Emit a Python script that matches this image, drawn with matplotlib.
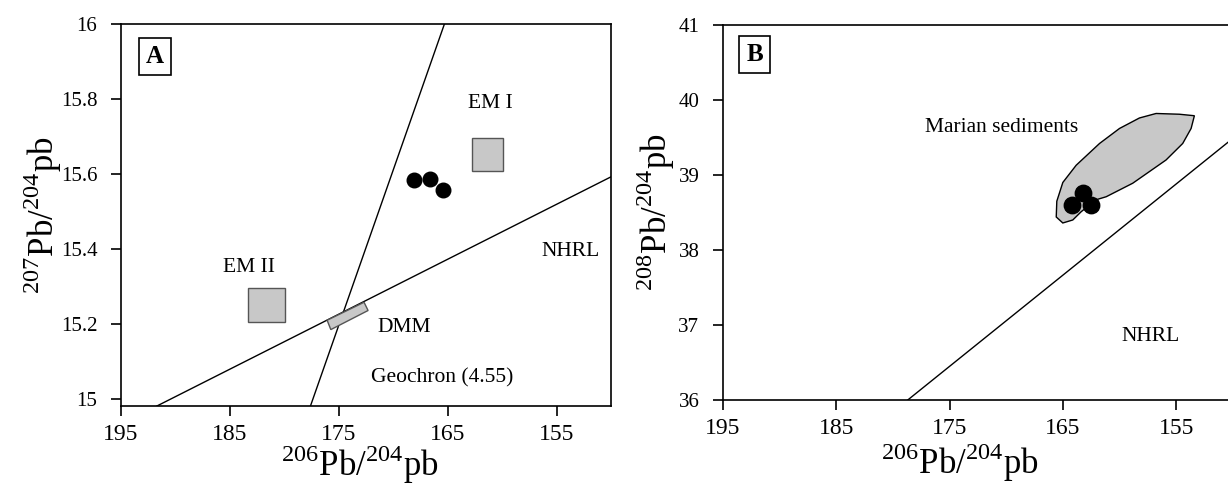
import matplotlib

matplotlib.use("Agg")
import matplotlib.pyplot as plt  # noqa: E402
from matplotlib.patches import Polygon, Rectangle  # noqa: E402

plt.rcParams["font.family"] = ["Liberation Serif", "DejaVu Serif"]
plt.rcParams["mathtext.fontset"] = "custom"
plt.rcParams["mathtext.rm"] = "Liberation Serif"

# panel A: 207Pb/204Pb vs 206Pb/204Pb
a_samples_x = [168.1, 166.6, 165.4]
a_samples_y = [15.584, 15.587, 15.557]
geochron_x = [165.3, 177.6]
geochron_y = [16.0, 14.98]
nhrl_a_x = [191.7, 150.0]
nhrl_a_y = [14.98, 15.592]
em1_box = (159.9, 15.608, 2.9, 0.088)   # x0, y0, width, height
em2_box = (179.95, 15.203, 3.4, 0.093)
dmm_x = [175.73, 176.07, 172.68, 172.31]
dmm_y = [15.184, 15.209, 15.257, 15.235]

# panel B: 208Pb/204Pb vs 206Pb/204Pb
b_samples_x = [164.25, 163.2, 162.5]
b_samples_y = [38.6, 38.76, 38.6]
nhrl_b_x = [178.7, 150.0]
nhrl_b_y = [36.0, 39.49]
marian_x = [165.60, 165.02, 164.14, 163.40, 162.07, 161.19, 158.85, 155.91,
            154.44, 153.70, 153.41, 154.74, 156.79, 158.26, 160.02, 161.78,
            163.84, 165.02, 165.55]
marian_y = [38.44, 38.36, 38.40, 38.51, 38.67, 38.71, 38.89, 39.20,
            39.42, 39.62, 39.79, 39.81, 39.82, 39.76, 39.62, 39.42,
            39.13, 38.90, 38.65]

x_ticks = [195, 185, 175, 165, 155]
a_yticks = [15, 15.2, 15.4, 15.6, 15.8, 16]
a_ylabels = ["15", "15.2", "15.4", "15.6", "15.8", "16"]
b_yticks = [36, 37, 38, 39, 40, 41]

GREY = "#c8c8c8"
XLABEL = r"$^{\mathrm{206}}$Pb/$^{\mathrm{204}}$pb"
NOTE = 15.5


def style_axes(ax):
    ax.set_xlim(195, 150)
    ax.set_xticks(x_ticks)
    ax.tick_params(axis="x", direction="out", length=7, width=1.2, labelsize=17, pad=6)
    ax.tick_params(axis="y", direction="out", length=7, width=1.2, labelsize=15, pad=10)
    for sp in ax.spines.values():
        sp.set_linewidth(1.2)


def panel_tag(ax, x, y, letter):
    ax.text(x, y, letter, fontsize=18, fontweight="bold", ha="center", va="center",
            bbox=dict(boxstyle="square,pad=0.28", fc="white", ec="black", lw=1.2))


fig = plt.figure(figsize=(12.28, 4.86), dpi=100)

# ---- A ----
ax1 = fig.add_axes([0.0985, 0.1646, 0.3991, 0.786])
style_axes(ax1)
ax1.set_ylim(14.98, 16)
ax1.set_yticks(a_yticks)
ax1.set_yticklabels(a_ylabels)
ax1.plot(geochron_x, geochron_y, color="black", lw=1.0)
ax1.plot(nhrl_a_x, nhrl_a_y, color="black", lw=1.0)
for x0, y0, w, h in (em1_box, em2_box):
    ax1.add_patch(Rectangle((x0 + w, y0), -w, h, fc=GREY, ec="#555555", lw=1.0, zorder=3))
ax1.add_patch(Polygon(list(zip(dmm_x, dmm_y)), closed=True, fc=GREY, ec="#555555", lw=1.0, zorder=3))
ax1.scatter(a_samples_x, a_samples_y, s=110, color="black", zorder=4)
panel_tag(ax1, 191.9, 15.912, "A")
ax1.text(161.1, 15.787, "EM I", fontsize=NOTE, ha="center", va="center")
ax1.text(183.2, 15.349, "EM II", fontsize=NOTE, ha="center", va="center")
ax1.text(153.7, 15.392, "NHRL", fontsize=NOTE, ha="center", va="center")
ax1.text(169.0, 15.189, "DMM", fontsize=NOTE, ha="center", va="center")
ax1.text(165.5, 15.056, "Geochron (4.55)", fontsize=NOTE, ha="center", va="center")
ax1.set_xlabel(XLABEL, fontsize=25)
ax1.set_ylabel(r"$^{\mathrm{207}}$Pb/$^{\mathrm{204}}$pb", fontsize=25)
ax1.xaxis.set_label_coords(0.488, -0.097)
ax1.yaxis.set_label_coords(-0.117, 0.5)

# ---- B ----
ax2 = fig.add_axes([0.5888, 0.177, 0.4153, 0.7716])
style_axes(ax2)
ax2.set_ylim(36, 41)
ax2.set_yticks(b_yticks)
ax2.plot(nhrl_b_x, nhrl_b_y, color="black", lw=1.0)
ax2.add_patch(Polygon(list(zip(marian_x, marian_y)), closed=True, fc=GREY, ec="black", lw=1.0, zorder=3))
ax2.scatter(b_samples_x, b_samples_y, s=140, color="black", zorder=4)
panel_tag(ax2, 192.2, 40.6, "B")
ax2.text(170.4, 39.63, "Marian sediments", fontsize=NOTE, ha="center", va="center")
ax2.text(157.3, 36.84, "NHRL", fontsize=NOTE, ha="center", va="center")
ax2.set_xlabel(XLABEL, fontsize=25)
ax2.set_ylabel(r"$^{\mathrm{208}}$Pb/$^{\mathrm{204}}$pb", fontsize=25)
ax2.xaxis.set_label_coords(0.465, -0.111)
ax2.yaxis.set_label_coords(-0.09, 0.5)

fig.savefig("out.png", dpi=100)
plt.close(fig)
